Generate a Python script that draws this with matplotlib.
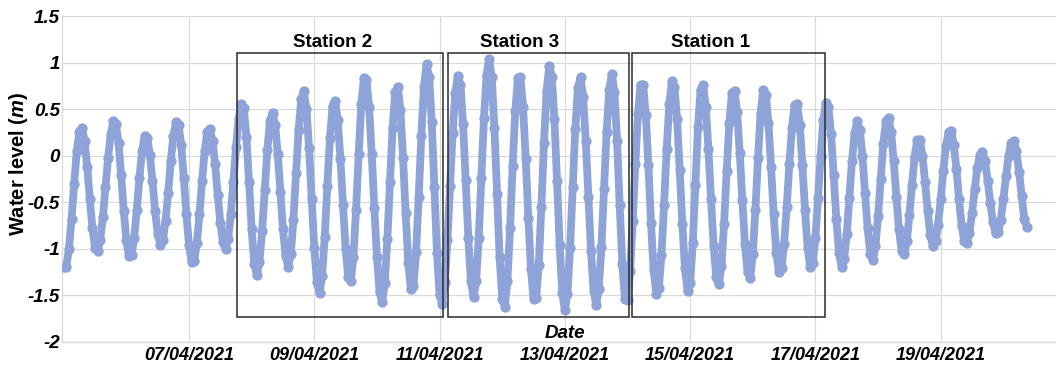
import numpy as np
import pandas as pd
import matplotlib
matplotlib.use("Agg")
import matplotlib.pyplot as plt
import matplotlib.dates as mdates
from matplotlib.patches import Rectangle

# hourly water level (m), starting 05/04/2021 00:00
level = [
    -1.20, -1.19, -1.00, -0.68, -0.30, 0.05, 0.26, 0.30, 0.16, -0.12, -0.46, -0.78, -0.99, -1.02, -0.90, -0.66, -0.34, -0.02, 0.23, 0.37, 0.34, 0.14, -0.21, -0.59,
    -0.91, -1.08, -1.07, -0.88, -0.58, -0.24, 0.05, 0.21, 0.19, 0.01, -0.27, -0.59, -0.84, -0.96, -0.91, -0.70, -0.40, -0.06, 0.21, 0.36, 0.33, 0.12, -0.24, -0.63,
    -0.96, -1.14, -1.13, -0.94, -0.63, -0.27, 0.05, 0.26, 0.29, 0.16, -0.09, -0.42, -0.72, -0.93, -1.00, -0.89, -0.63, -0.28, 0.09, 0.39, 0.55, 0.51, 0.20, -0.28,
    -0.79, -1.16, -1.28, -1.14, -0.81, -0.37, 0.06, 0.37, 0.46, 0.33, 0.02, -0.39, -0.79, -1.08, -1.19, -1.06, -0.69, -0.19, 0.28, 0.61, 0.69, 0.50, 0.08, -0.47,
    -0.99, -1.36, -1.47, -1.29, -0.87, -0.32, 0.19, 0.53, 0.59, 0.38, -0.03, -0.53, -1.00, -1.30, -1.34, -1.09, -0.58, 0.02, 0.55, 0.83, 0.81, 0.52, 0.02, -0.56,
    -1.09, -1.46, -1.57, -1.37, -0.89, -0.28, 0.30, 0.68, 0.74, 0.49, -0.02, -0.62, -1.15, -1.43, -1.40, -1.03, -0.44, 0.21, 0.74, 0.98, 0.85, 0.36, -0.34, -1.04,
    -1.50, -1.59, -1.36, -0.91, -0.33, 0.24, 0.67, 0.86, 0.76, 0.34, -0.26, -0.88, -1.35, -1.52, -1.35, -0.88, -0.24, 0.40, 0.87, 1.04, 0.84, 0.30, -0.41, -1.09,
    -1.54, -1.62, -1.34, -0.78, -0.11, 0.48, 0.83, 0.84, 0.52, -0.03, -0.67, -1.22, -1.54, -1.53, -1.17, -0.55, 0.14, 0.70, 0.96, 0.85, 0.39, -0.27, -0.96, -1.47,
    -1.66, -1.48, -0.99, -0.34, 0.29, 0.73, 0.84, 0.63, 0.16, -0.44, -1.02, -1.45, -1.60, -1.43, -0.98, -0.36, 0.26, 0.71, 0.88, 0.68, 0.16, -0.53, -1.16, -1.54,
    -1.55, -1.24, -0.70, -0.09, 0.45, 0.76, 0.76, 0.44, -0.10, -0.72, -1.23, -1.48, -1.42, -1.07, -0.53, 0.07, 0.55, 0.80, 0.74, 0.39, -0.15, -0.73, -1.21, -1.45,
    -1.37, -0.94, -0.31, 0.31, 0.71, 0.76, 0.52, 0.07, -0.47, -0.97, -1.30, -1.38, -1.18, -0.73, -0.16, 0.35, 0.67, 0.70, 0.47, 0.03, -0.48, -0.95, -1.25, -1.31,
    -1.06, -0.58, -0.02, 0.46, 0.71, 0.65, 0.35, -0.12, -0.63, -1.04, -1.25, -1.21, -0.95, -0.55, -0.09, 0.30, 0.54, 0.56, 0.33, -0.10, -0.58, -0.99, -1.20, -1.15,
    -0.88, -0.45, 0.00, 0.38, 0.57, 0.52, 0.23, -0.21, -0.68, -1.04, -1.19, -1.11, -0.84, -0.45, -0.06, 0.24, 0.37, 0.28, 0.00, -0.40, -0.78, -1.05, -1.12, -0.97,
    -0.65, -0.25, 0.13, 0.37, 0.41, 0.25, -0.06, -0.44, -0.79, -1.02, -1.06, -0.92, -0.64, -0.31, -0.01, 0.17, 0.17, 0.00, -0.28, -0.59, -0.85, -0.97, -0.92, -0.74,
    -0.47, -0.16, 0.10, 0.25, 0.27, 0.12, -0.14, -0.46, -0.75, -0.92, -0.94, -0.83, -0.62, -0.36, -0.13, 0.01, 0.04, -0.06, -0.27, -0.51, -0.71, -0.83, -0.82, -0.69,
    -0.47, -0.22, 0.00, 0.14, 0.16, 0.05, -0.17, -0.43, -0.68, -0.76,
]
times = pd.date_range("2021-04-05 00:00", periods=len(level), freq="h")

stations = ["Station 2", "Station 3", "Station 1"]
station_start = ["2021-04-07 18:17", "2021-04-11 03:22", "2021-04-14 01:38"]
station_end = ["2021-04-11 01:26", "2021-04-14 00:36", "2021-04-17 03:50"]
label_time = ["2021-04-09 07:03", "2021-04-12 06:50", "2021-04-15 07:38"]

tick_days = ["2021-04-07", "2021-04-09", "2021-04-11", "2021-04-13",
             "2021-04-15", "2021-04-17", "2021-04-19"]

plt.rcParams["font.family"] = ["Liberation Sans", "DejaVu Sans"]
plt.rcParams["mathtext.fontset"] = "custom"
plt.rcParams["mathtext.it"] = "Liberation Sans:bold:italic"

fig = plt.figure(figsize=(10.56, 3.69), dpi=100)
ax = fig.add_axes([0.0587, 0.0732, 0.9413, 0.8834])

blue = "#8ea3d7"
ax.plot(times, level, "-o", color=blue, lw=5.6, ms=6.4, mec=blue, mfc=blue,
        solid_joinstyle="round", solid_capstyle="round", zorder=3)

ax.set_ylim(-2, 1.5)
ax.set_yticks(np.arange(-2, 1.51, 0.5))
ax.set_yticklabels(["-2", "-1.5", "-1", "-0.5", "0", "0.5", "1", "1.5"])
ax.set_xlim(pd.Timestamp("2021-04-04 23:20"), pd.Timestamp("2021-04-20 20:10"))
ax.set_xticks(pd.to_datetime(tick_days))
ax.xaxis.set_major_formatter(mdates.DateFormatter("%d/%m/%Y"))

ax.grid(True, color="#d9d9d9", lw=0.9)
ax.set_axisbelow(True)
for side in ["top", "right"]:
    ax.spines[side].set_visible(False)
for side in ["left", "bottom"]:
    ax.spines[side].set_color("#d9d9d9")
    ax.spines[side].set_linewidth(0.9)

ax.tick_params(length=0)
ax.tick_params(axis="x", pad=3.5)
ax.tick_params(axis="y", pad=1.5)
for lab in ax.get_xticklabels():
    lab.set_fontsize(13)
    lab.set_fontweight("bold")
    lab.set_fontstyle("italic")
for lab in ax.get_yticklabels():
    lab.set_fontsize(13.5)
    lab.set_fontweight("bold")
    lab.set_fontstyle("italic")

ax.set_ylabel("Water level ($m$)", fontsize=14.5, fontweight="bold")
ax.yaxis.set_label_coords(-0.044, 0.546)
ax.yaxis.label.set_va("center")

ax.text(pd.Timestamp("2021-04-13 00:00"), -1.905, "Date", fontsize=13.5,
        fontweight="bold", fontstyle="italic", ha="center", va="center")

box_top, box_bottom = 1.106, -1.729
for name, s, e, lt in zip(stations, station_start, station_end, label_time):
    x0 = mdates.date2num(pd.Timestamp(s))
    x1 = mdates.date2num(pd.Timestamp(e))
    ax.add_patch(Rectangle((x0, box_bottom), x1 - x0, box_top - box_bottom,
                           fill=False, ec="#2b2b2b", lw=1.1, zorder=4))
    ax.text(pd.Timestamp(lt), 1.214, name, fontsize=13.5, fontweight="bold",
            ha="center", va="center")

fig.savefig("out.png", dpi=100)
